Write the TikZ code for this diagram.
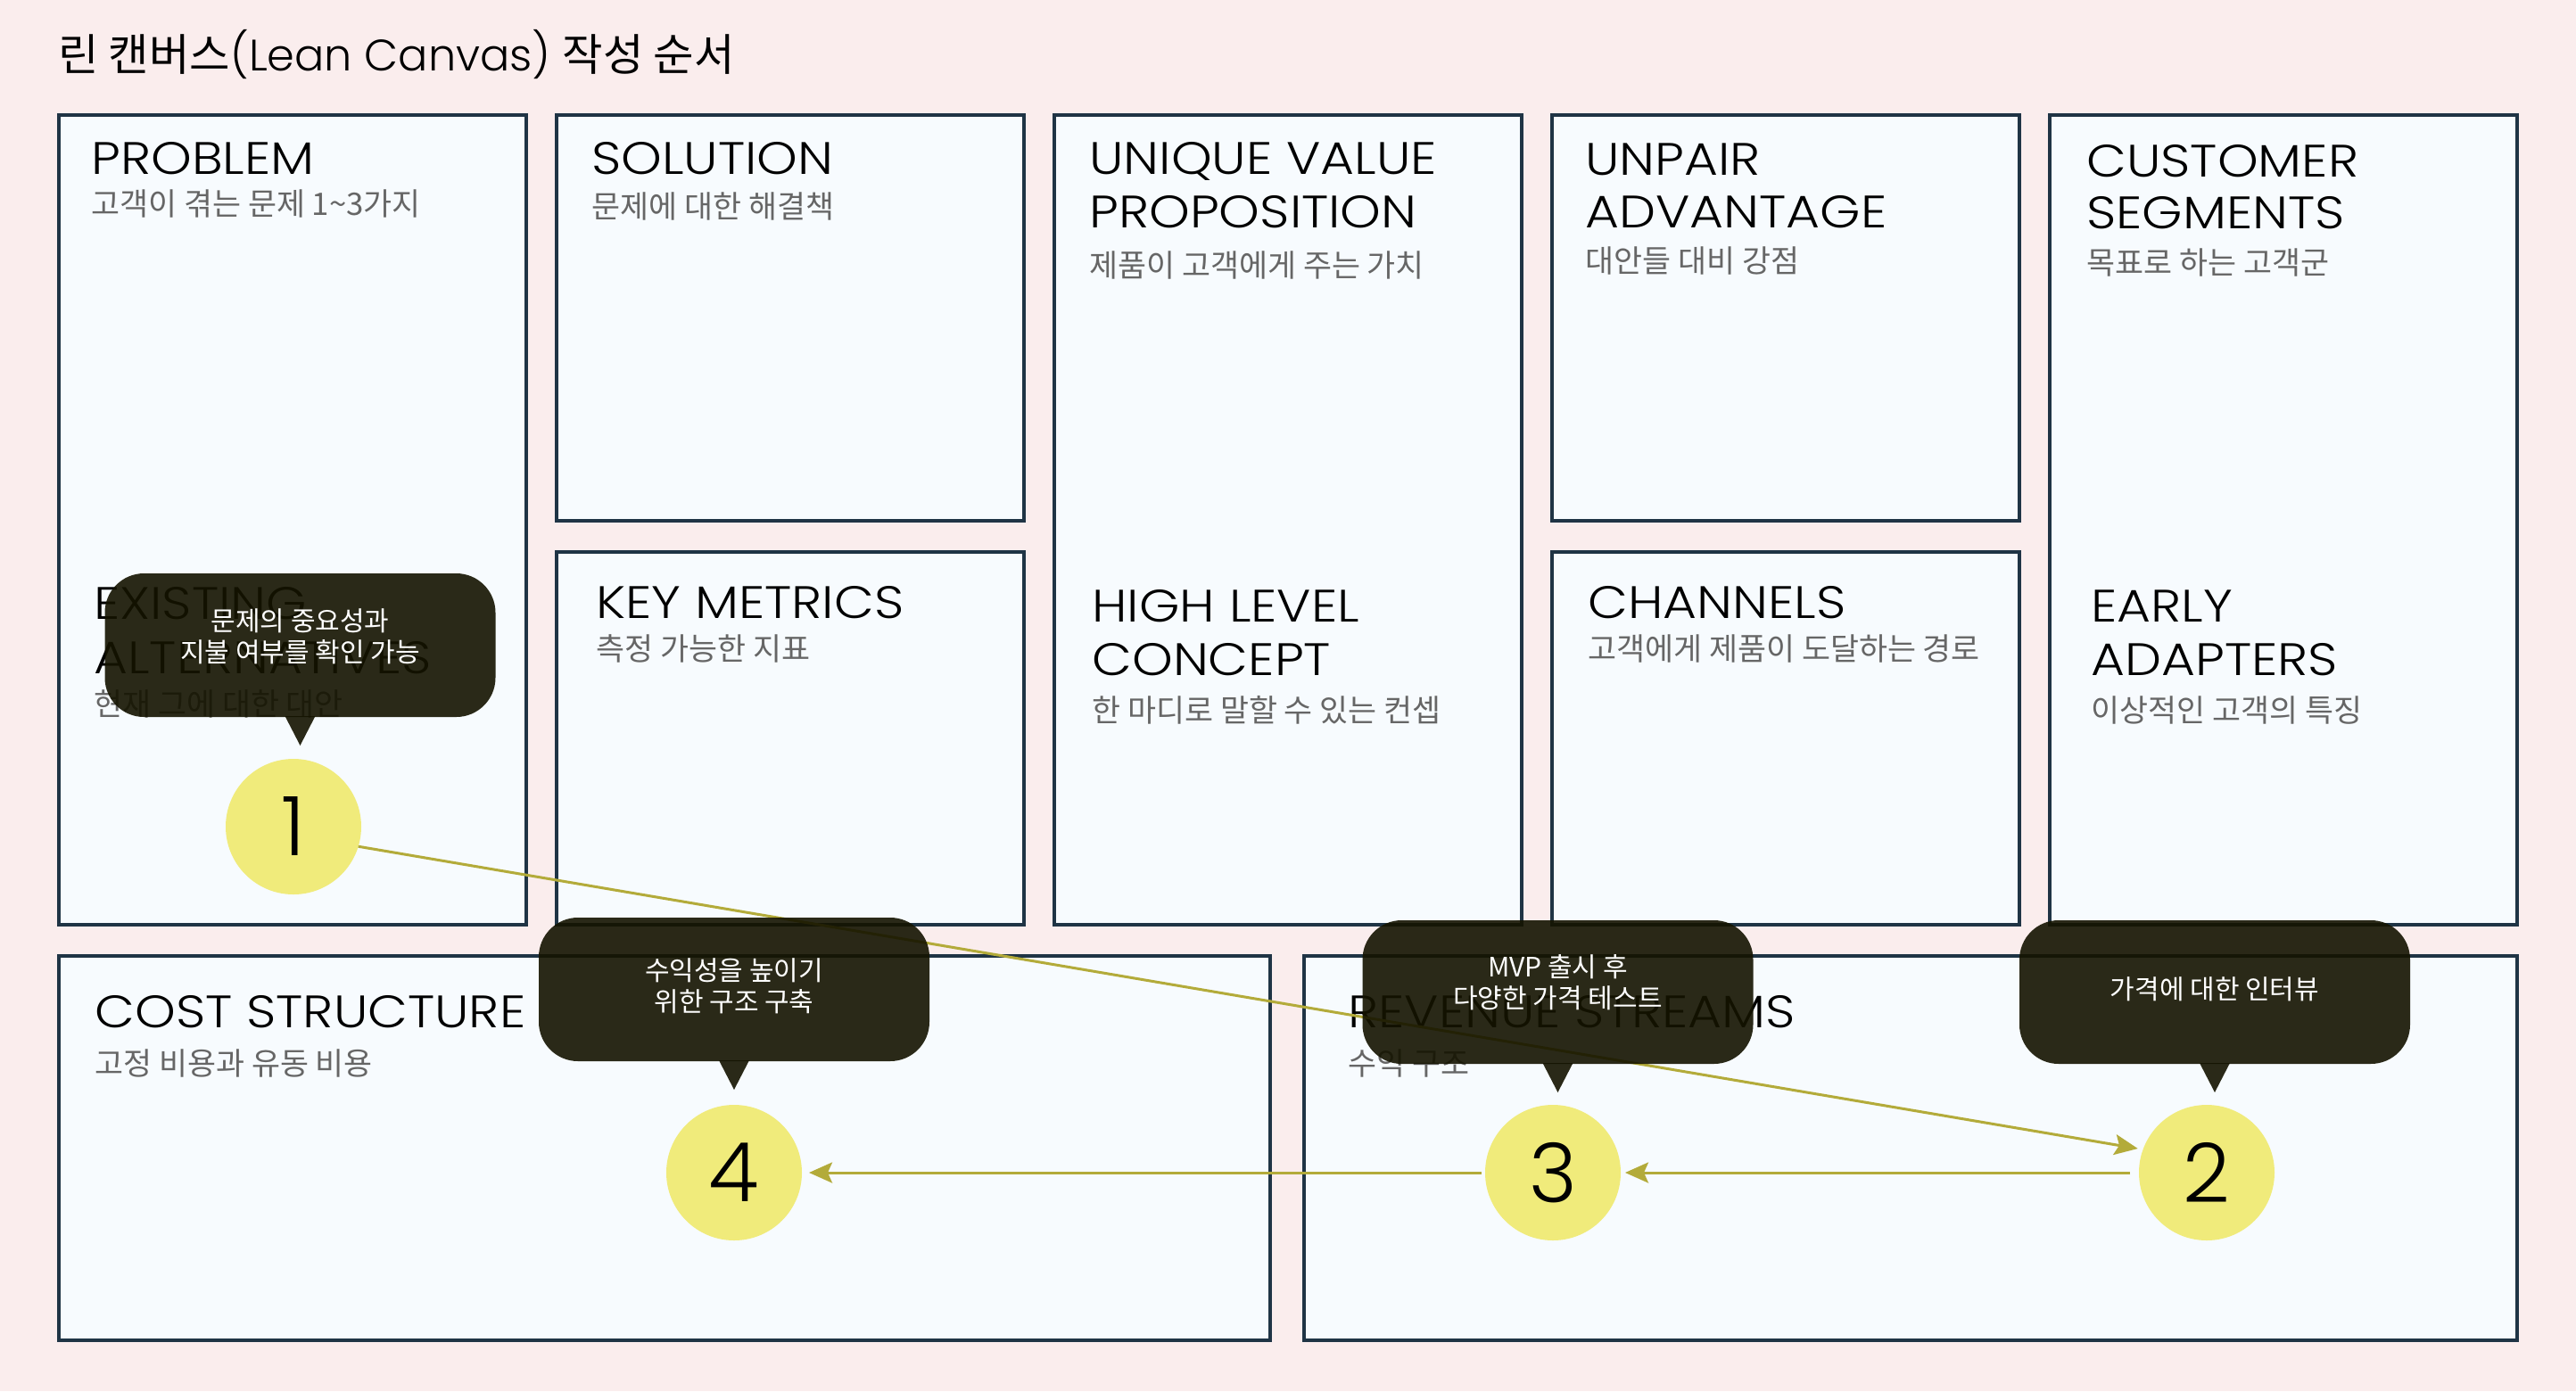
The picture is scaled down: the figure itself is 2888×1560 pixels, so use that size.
\documentclass[tikz,border=0pt]{standalone}
\usepackage{fontspec}
\setmainfont{Poppins}
\newfontfamily\kr{Noto Sans CJK KR}
\newfontfamily\pop[UprightFont={* Light}]{Poppins}
\newfontfamily\popw[FakeStretch=1.14, UprightFont={* Light}]{Poppins}
\usetikzlibrary{arrows.meta,calc}
\definecolor{bgc}{HTML}{FAEDED}
\definecolor{boxfill}{HTML}{F7FBFE}
\definecolor{boxline}{HTML}{1F3445}
\definecolor{subgray}{HTML}{666666}
\definecolor{bubblec}{RGB}{20,19,0}
\definecolor{circc}{HTML}{F0EB7B}
\definecolor{arrc}{HTML}{B3AB3A}
\begin{document}
\begin{tikzpicture}[x=0.5pt,y=-0.5pt,
 cell/.style={draw=boxline, line width=2pt, fill=boxfill},
 head/.style={anchor=base west, inner sep=0pt, font=\popw\fontsize{25.5pt}{30pt}\selectfont, text=black},
 sub/.style={anchor=base west, inner sep=0pt, font=\kr\fontsize{17.4pt}{21pt}\selectfont, text=subgray},
 bubble/.style={fill=bubblec, fill opacity=0.9, rounded corners=22pt, minimum width=219pt, minimum height=80.5pt, inner sep=0pt, outer sep=0pt},
 btext/.style={text=white, inner sep=0pt, align=center, font=\kr\fontsize{15pt}{17.5pt}\selectfont},
 tipfill/.style={fill=bubblec, fill opacity=0.9},
 numc/.style={circle, fill=circc, minimum size=76pt, inner sep=0pt, outer sep=0pt, font=\pop\fontsize{46pt}{50pt}\selectfont},
 arr/.style={draw=arrc, line width=1.5pt, -{Stealth[length=13pt,width=11.5pt,inset=2.5pt]}}
]
\useasboundingbox (0,0) rectangle (2888,1560);
\fill[bgc] (0,0) rectangle (2888,1560);
% title
\node[anchor=base west, inner sep=0pt, font=\fontsize{24.7pt}{29pt}\selectfont] (title) at (65,79) {{\kr 린 캔버스}{\pop(Lean Canvas)} {\kr 작성 순서}};
% boxes
\draw[cell] (66,129) rectangle (590,1037);
\draw[cell] (624,129) rectangle (1148,584);
\draw[cell] (624,619) rectangle (1148,1037);
\draw[cell] (1182,129) rectangle (1706,1037);
\draw[cell] (1740,129) rectangle (2264,584);
\draw[cell] (1740,619) rectangle (2264,1037);
\draw[cell] (2298,129) rectangle (2822,1037);
\draw[cell] (66,1072) rectangle (1424,1503);
\draw[cell] (1462,1072) rectangle (2822,1503);
% headings
\node[head] (hprob) at (102,195) {PROBLEM};
\node[sub] (sprob) at (102,241) {고객이 겪는 문제 1\textasciitilde3가지};
\node[head] (hsol) at (663,195) {SOLUTION};
\node[sub] (ssol) at (663,244) {문제에 대한 해결책};
\node[head] (huvp1) at (1221,195) {UNIQUE VALUE};
\node[head] (huvp2) at (1221,255) {PROPOSITION};
\node[sub] (suvp) at (1221,310) {제품이 고객에게 주는 가치};
\node[head] (hua1) at (1777,196) {UNPAIR};
\node[head] (hua2) at (1777,255) {ADVANTAGE};
\node[sub] (sua) at (1777,305) {대안들 대비 강점};
\node[head] (hcs1) at (2339,198) {CUSTOMER};
\node[head] (hcs2) at (2339,256) {SEGMENTS};
\node[sub] (scs) at (2339,307) {목표로 하는 고객군};
\node[head] (hea1) at (105,694) {EXISTING};
\node[head] (hea2) at (105,755) {ALTERNATIVES};
\node[sub] (sea) at (105,802) {현재 그에 대한 대안};
\node[head] (hkm) at (668,693) {KEY METRICS};
\node[sub] (skm) at (668,740) {측정 가능한 지표};
\node[head] (hhl1) at (1224,697) {HIGH LEVEL};
\node[head] (hhl2) at (1224,757) {CONCEPT};
\node[sub] (shl) at (1224,809) {한 마디로 말할 수 있는 컨셉};
\node[head] (hch) at (1780,693) {CHANNELS};
\node[sub] (sch) at (1780,740) {고객에게 제품이 도달하는 경로};
\node[head] (hear1) at (2344,697) {EARLY};
\node[head] (hear2) at (2344,757) {ADAPTERS};
\node[sub] (sear) at (2344,809) {이상적인 고객의 특징};
\node[head] (hcost) at (106,1152) {COST STRUCTURE};
\node[sub] (scost) at (106,1205) {고정 비용과 유동 비용};
\node[head] (hrev) at (1511,1152) {REVENUE STREAMS};
\node[sub] (srev) at (1511,1205) {수익 구조};
% circles
\node[numc] (c1) at (329,927) {1};
\node[numc] (c4) at (823,1315) {4};
\node[numc] (c3) at (1741,1315) {3};
\node[numc] (c2) at (2474,1315) {2};
% arrows
\draw[arr, shorten >=3pt] (c1.-17) -- (c2.160);
\draw[arr, shorten <=5pt, shorten >=2.5pt] (c2) -- (c3);
\draw[arr, shorten <=2pt, shorten >=4pt] (c3) -- (c4);
% bubbles
\node[bubble] (b1) at (336.5,723.5) {};
\fill[tipfill] ($(b1.south)+(-17,-1)$) -- ($(b1.south)+(17,-1)$) -- ($(b1.south)+(0,32)$) -- cycle;
\node[btext] (t1) at (336.5,714) {문제의 중요성과\\지불 여부를 확인 가능};
\node[bubble] (b4) at (823,1109.5) {};
\fill[tipfill] ($(b4.south)+(-17,-1)$) -- ($(b4.south)+(17,-1)$) -- ($(b4.south)+(0,32)$) -- cycle;
\node[btext] (t4) at (823,1106) {수익성을 높이기\\위한 구조 구축};
\node[bubble] (b3) at (1746.5,1112.5) {};
\fill[tipfill] ($(b3.south)+(-17,-1)$) -- ($(b3.south)+(17,-1)$) -- ($(b3.south)+(0,32)$) -- cycle;
\node[btext] (t3) at (1746.5,1102) {MVP 출시 후\\다양한 가격 테스트};
\node[bubble] (b2) at (2483,1112.5) {};
\fill[tipfill] ($(b2.south)+(-17,-1)$) -- ($(b2.south)+(17,-1)$) -- ($(b2.south)+(0,32)$) -- cycle;
\node[btext] (t2) at (2483,1109) {가격에 대한 인터뷰};
\end{tikzpicture}
\end{document}
